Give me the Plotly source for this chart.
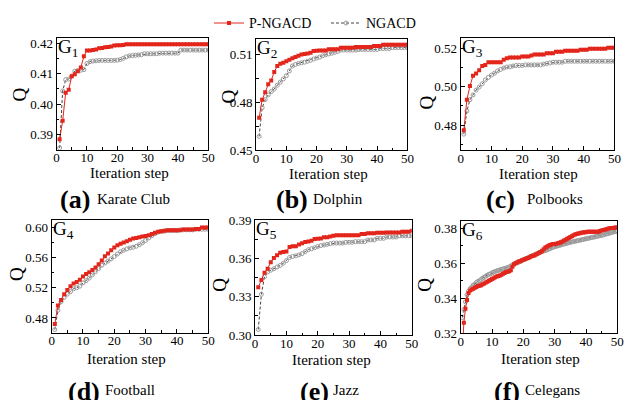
import plotly.graph_objects as go

# ---------------- data ----------------
steps = list(range(1, 51))
steps_f = [k / 2 for k in range(1, 101)]

karate_p = [0.3885, 0.3945, 0.4037, 0.4047, 0.4091, 0.4098, 0.4108, 0.4120, 0.4157, 0.4176,
            0.4176, 0.4177, 0.4179, 0.4183, 0.4184, 0.4186, 0.4187, 0.4189, 0.4192, 0.4193,
            0.4193, 0.4194, 0.4196, 0.4196, 0.4196, 0.4196, 0.4196, 0.4196, 0.4196, 0.4196,
            0.4196, 0.4196, 0.4196, 0.4196, 0.4196, 0.4196, 0.4196, 0.4196, 0.4196, 0.4196,
            0.4196, 0.4196, 0.4196, 0.4196, 0.4196, 0.4196, 0.4196, 0.4196, 0.4196, 0.4196]
karate_n = [0.3856, 0.4043, 0.4080, 0.4082, 0.4092, 0.4108, 0.4110, 0.4111, 0.4113, 0.4133,
            0.4139, 0.4141, 0.4142, 0.4143, 0.4143, 0.4143, 0.4143, 0.4143, 0.4143, 0.4144,
            0.4146, 0.4150, 0.4155, 0.4158, 0.4159, 0.4160, 0.4161, 0.4162, 0.4165, 0.4165,
            0.4165, 0.4165, 0.4165, 0.4167, 0.4167, 0.4167, 0.4167, 0.4167, 0.4167, 0.4167,
            0.4177, 0.4177, 0.4177, 0.4177, 0.4177, 0.4177, 0.4177, 0.4177, 0.4177, 0.4177]

dolphin_p = [0.4702, 0.4816, 0.4863, 0.4913, 0.4937, 0.4991, 0.5028, 0.5042, 0.5048, 0.5058,
             0.5068, 0.5076, 0.5084, 0.5092, 0.5100, 0.5104, 0.5106, 0.5112, 0.5122, 0.5124,
             0.5126, 0.5126, 0.5126, 0.5134, 0.5134, 0.5134, 0.5134, 0.5142, 0.5142, 0.5142,
             0.5142, 0.5142, 0.5148, 0.5148, 0.5148, 0.5148, 0.5148, 0.5148, 0.5154, 0.5154,
             0.5154, 0.5162, 0.5162, 0.5162, 0.5162, 0.5162, 0.5162, 0.5162, 0.5162, 0.5162]
dolphin_n = [0.4585, 0.4766, 0.4816, 0.4846, 0.4867, 0.4883, 0.4907, 0.4927, 0.4947, 0.4967,
             0.4997, 0.5028, 0.5038, 0.5044, 0.5048, 0.5052, 0.5058, 0.5064, 0.5072, 0.5078,
             0.5084, 0.5092, 0.5098, 0.5104, 0.5108, 0.5114, 0.5120, 0.5128, 0.5128, 0.5128,
             0.5128, 0.5128, 0.5128, 0.5132, 0.5132, 0.5132, 0.5132, 0.5132, 0.5132, 0.5132,
             0.5138, 0.5138, 0.5138, 0.5138, 0.5144, 0.5144, 0.5144, 0.5144, 0.5144, 0.5144]

polbooks_p = [0.4773, 0.4932, 0.5003, 0.5057, 0.5068, 0.5085, 0.5107, 0.5112, 0.5127, 0.5127,
              0.5127, 0.5127, 0.5127, 0.5140, 0.5148, 0.5152, 0.5152, 0.5152, 0.5152, 0.5157,
              0.5157, 0.5157, 0.5162, 0.5167, 0.5167, 0.5167, 0.5167, 0.5173, 0.5173, 0.5173,
              0.5182, 0.5182, 0.5182, 0.5187, 0.5187, 0.5187, 0.5187, 0.5187, 0.5192, 0.5192,
              0.5192, 0.5197, 0.5197, 0.5197, 0.5197, 0.5197, 0.5197, 0.5202, 0.5202, 0.5202]
polbooks_n = [0.4753, 0.4873, 0.4932, 0.4957, 0.4982, 0.4998, 0.5015, 0.5035, 0.5048, 0.5060,
              0.5070, 0.5082, 0.5090, 0.5097, 0.5102, 0.5103, 0.5107, 0.5110, 0.5110, 0.5110,
              0.5113, 0.5113, 0.5113, 0.5113, 0.5113, 0.5113, 0.5117, 0.5120, 0.5123, 0.5127,
              0.5127, 0.5127, 0.5127, 0.5132, 0.5132, 0.5132, 0.5132, 0.5132, 0.5132, 0.5132,
              0.5132, 0.5132, 0.5132, 0.5132, 0.5132, 0.5132, 0.5132, 0.5132, 0.5132, 0.5132]

football_p = [0.4719, 0.4966, 0.5038, 0.5115, 0.5170, 0.5221, 0.5255, 0.5277, 0.5306, 0.5349,
              0.5383, 0.5404, 0.5434, 0.5468, 0.5511, 0.5562, 0.5617, 0.5655, 0.5698, 0.5732,
              0.5762, 0.5783, 0.5800, 0.5817, 0.5834, 0.5851, 0.5860, 0.5868, 0.5877, 0.5885,
              0.5894, 0.5911, 0.5928, 0.5940, 0.5949, 0.5953, 0.5962, 0.5962, 0.5962, 0.5962,
              0.5962, 0.5970, 0.5970, 0.5970, 0.5970, 0.5979, 0.5979, 0.5996, 0.5996, 0.5996]
football_n = [0.4647, 0.4902, 0.5017, 0.5072, 0.5115, 0.5149, 0.5187, 0.5200, 0.5221, 0.5264,
              0.5294, 0.5328, 0.5370, 0.5413, 0.5455, 0.5498, 0.5528, 0.5553, 0.5583, 0.5613,
              0.5647, 0.5677, 0.5698, 0.5715, 0.5728, 0.5736, 0.5749, 0.5770, 0.5796, 0.5826,
              0.5860, 0.5889, 0.5915, 0.5936, 0.5945, 0.5949, 0.5957, 0.5957, 0.5957, 0.5957,
              0.5966, 0.5966, 0.5966, 0.5966, 0.5966, 0.5974, 0.5974, 0.5974, 0.5974, 0.5974]

jazz_p = [0.3374, 0.3432, 0.3488, 0.3520, 0.3571, 0.3603, 0.3626, 0.3644, 0.3651, 0.3654,
          0.3691, 0.3696, 0.3696, 0.3709, 0.3719, 0.3729, 0.3734, 0.3739, 0.3752, 0.3754,
          0.3757, 0.3767, 0.3767, 0.3772, 0.3779, 0.3782, 0.3782, 0.3782, 0.3782, 0.3782,
          0.3782, 0.3782, 0.3782, 0.3792, 0.3792, 0.3797, 0.3797, 0.3797, 0.3802, 0.3802,
          0.3802, 0.3804, 0.3804, 0.3804, 0.3804, 0.3804, 0.3809, 0.3809, 0.3809, 0.3817]
jazz_n = [0.3043, 0.3319, 0.3457, 0.3495, 0.3508, 0.3520, 0.3533, 0.3545, 0.3563, 0.3583,
          0.3608, 0.3616, 0.3621, 0.3628, 0.3638, 0.3654, 0.3669, 0.3676, 0.3684, 0.3694,
          0.3701, 0.3706, 0.3711, 0.3716, 0.3721, 0.3721, 0.3721, 0.3721, 0.3727, 0.3727,
          0.3727, 0.3732, 0.3732, 0.3732, 0.3732, 0.3745, 0.3745, 0.3745, 0.3758, 0.3758,
          0.3758, 0.3768, 0.3768, 0.3768, 0.3768, 0.3778, 0.3778, 0.3778, 0.3778, 0.3778]

celegans_p = [0.3080, 0.3260, 0.3340, 0.3390, 0.3430, 0.3445, 0.3450, 0.3455, 0.3460, 0.3465,
              0.3470, 0.3472, 0.3475, 0.3480, 0.3485, 0.3490, 0.3495, 0.3500, 0.3505, 0.3510,
              0.3515, 0.3520, 0.3525, 0.3528, 0.3530, 0.3535, 0.3540, 0.3545, 0.3550, 0.3552,
              0.3555, 0.3560, 0.3580, 0.3595, 0.3600, 0.3605, 0.3610, 0.3612, 0.3618, 0.3620,
              0.3623, 0.3628, 0.3630, 0.3635, 0.3640, 0.3643, 0.3645, 0.3650, 0.3655, 0.3660,
              0.3665, 0.3672, 0.3680, 0.3690, 0.3695, 0.3700, 0.3705, 0.3707, 0.3710, 0.3710,
              0.3712, 0.3715, 0.3718, 0.3720, 0.3725, 0.3730, 0.3735, 0.3740, 0.3745, 0.3750,
              0.3755, 0.3760, 0.3765, 0.3768, 0.3770, 0.3772, 0.3775, 0.3776, 0.3778, 0.3778,
              0.3780, 0.3780, 0.3780, 0.3780, 0.3780, 0.3780, 0.3780, 0.3780, 0.3785, 0.3788,
              0.3790, 0.3792, 0.3795, 0.3797, 0.3800, 0.3801, 0.3802, 0.3803, 0.3804, 0.3805]
celegans_n = [0.3290, 0.3335, 0.3380, 0.3420, 0.3440, 0.3455, 0.3465, 0.3475, 0.3480, 0.3490,
              0.3497, 0.3500, 0.3508, 0.3515, 0.3520, 0.3527, 0.3532, 0.3537, 0.3540, 0.3545,
              0.3550, 0.3553, 0.3556, 0.3560, 0.3562, 0.3565, 0.3568, 0.3570, 0.3573, 0.3576,
              0.3580, 0.3585, 0.3590, 0.3595, 0.3600, 0.3603, 0.3607, 0.3610, 0.3615, 0.3620,
              0.3624, 0.3628, 0.3632, 0.3636, 0.3640, 0.3644, 0.3648, 0.3652, 0.3656, 0.3660,
              0.3663, 0.3667, 0.3670, 0.3673, 0.3676, 0.3680, 0.3684, 0.3688, 0.3692, 0.3695,
              0.3697, 0.3700, 0.3702, 0.3705, 0.3708, 0.3710, 0.3713, 0.3715, 0.3718, 0.3720,
              0.3722, 0.3724, 0.3726, 0.3728, 0.3730, 0.3732, 0.3734, 0.3736, 0.3738, 0.3740,
              0.3742, 0.3744, 0.3746, 0.3748, 0.3750, 0.3752, 0.3754, 0.3756, 0.3758, 0.3760,
              0.3762, 0.3765, 0.3768, 0.3770, 0.3772, 0.3775, 0.3778, 0.3780, 0.3782, 0.3785]

network_names = ["Karate Club", "Dolphin", "Polbooks", "Football", "Jazz", "Celegans"]
panel_tags = ["(a)", "(b)", "(c)", "(d)", "(e)", "(f)"]
graph_ids = ["1", "2", "3", "4", "5", "6"]
x_series = [steps, steps, steps, steps, steps, steps_f]
p_series = [karate_p, dolphin_p, polbooks_p, football_p, jazz_p, celegans_p]
n_series = [karate_n, dolphin_n, polbooks_n, football_n, jazz_n, celegans_n]
y_ranges = [[0.385, 0.4217], [0.4499, 0.5197], [0.467, 0.5252],
            [0.4603, 0.6097], [0.2999, 0.3902], [0.3199, 0.3842]]
y_tick0 = [0.39, 0.45, 0.48, 0.48, 0.30, 0.32]
y_dtick = [0.01, 0.03, 0.02, 0.04, 0.03, 0.02]
x_ticks = [0, 10, 20, 30, 40, 50]

# ---------------- layout geometry (pixels) ----------------
W, H = 630, 400
boxes = [(54.3, 208.3, 32, 148), (256.7, 410.3, 33.3, 148.3), (464.3, 620.3, 32.3, 148.3),
         (49.3, 208.3, 220.7, 337.7), (255.7, 414.7, 220.7, 340), (464.3, 623.3, 221.7, 338.3)]
q_pos = [(17, 91), (229, 93), (430, 99), (14, 277), (220, 288), (428, 288)]
xt_pos = [(128, 172), (330, 173), (543, 173), (125, 365), (333, 366), (545, 365)]
tag_right = [90, 311, 521, 100, 333, 527]
tag_y = [199, 199, 199, 398, 398, 398]
name_left = [93, 312, 530, 101, 333, 528]
name_y = [199, 199, 199, 397, 397, 397]

FONT = "Liberation Serif, Times New Roman, DejaVu Serif, serif"
RED = "#e3261c"

fig = go.Figure()
layout = {}
annotations = []

for i in range(6):
    xa = "x" if i == 0 else f"x{i+1}"
    ya = "y" if i == 0 else f"y{i+1}"
    l, r, t, b = boxes[i]
    xkey = "xaxis" if i == 0 else f"xaxis{i+1}"
    ykey = "yaxis" if i == 0 else f"yaxis{i+1}"
    layout[xkey] = dict(
        domain=[l / W, r / W], anchor=ya, range=[-0.02, 50.02],
        tickvals=x_ticks, ticks="inside", ticklen=4, tickcolor="black", tickwidth=1,
        minor=dict(ticks="inside", ticklen=2.5, dtick=5, tick0=0, tickcolor="black"),
        showline=True, linecolor="black", linewidth=1, mirror=True,
        showgrid=False, zeroline=False, ticklabelstandoff=-4,
        tickfont=dict(family=FONT, size=13, color="black"),
    )
    layout[ykey] = dict(
        domain=[1 - b / H, 1 - t / H], anchor=xa, range=y_ranges[i],
        tick0=y_tick0[i], dtick=y_dtick[i], tickformat=".2f",
        ticks="inside", ticklen=4, tickcolor="black", tickwidth=1,
        minor=dict(ticks="inside", ticklen=2.5, dtick=y_dtick[i] / 2, tick0=y_tick0[i],
                   tickcolor="black"),
        showline=True, linecolor="black", linewidth=1, mirror=True,
        showgrid=False, zeroline=False,
        tickfont=dict(family=FONT, size=13, color="black"),
    )

    fig.add_trace(go.Scatter(
        x=x_series[i], y=n_series[i], xaxis=xa, yaxis=ya, name="NGACD",
        mode="lines+markers", showlegend=(i == 0), legendrank=2,
        line=dict(color="#444444", width=1, dash="3px,2px"),
        marker=dict(symbol="circle-open", size=4, color="#9a9a9a", line=dict(width=1, color="#9a9a9a")),
    ))
    fig.add_trace(go.Scatter(
        x=x_series[i], y=p_series[i], xaxis=xa, yaxis=ya, name="P-NGACD",
        mode="lines+markers", showlegend=(i == 0), legendrank=1,
        line=dict(color=RED, width=1),
        marker=dict(symbol="square", size=4, color=RED),
    ))

    annotations.append(dict(
        x=(l - 1) / W, y=1 - (t - 4) / H, xref="paper", yref="paper",
        xanchor="left", yanchor="top", showarrow=False,
        text=f"G<sub>{graph_ids[i]}</sub>", font=dict(family=FONT, size=19, color="black"),
    ))
    annotations.append(dict(
        x=q_pos[i][0] / W, y=1 - q_pos[i][1] / H, xref="paper", yref="paper",
        xanchor="center", yanchor="middle", showarrow=False, textangle=-90,
        text="Q", font=dict(family=FONT, size=19, color="black"),
    ))
    annotations.append(dict(
        x=xt_pos[i][0] / W, y=1 - xt_pos[i][1] / H, xref="paper", yref="paper",
        xanchor="center", yanchor="middle", showarrow=False,
        text="Iteration step", font=dict(family=FONT, size=15, color="black"),
    ))
    annotations.append(dict(
        x=tag_right[i] / W, y=1 - tag_y[i] / H, xref="paper", yref="paper",
        xanchor="right", yanchor="middle", showarrow=False,
        text=f"<b>{panel_tags[i]}</b>", font=dict(family=FONT, size=26, color="black"),
    ))
    annotations.append(dict(
        x=name_left[i] / W, y=1 - name_y[i] / H, xref="paper", yref="paper",
        xanchor="left", yanchor="middle", showarrow=False,
        text=network_names[i], font=dict(family=FONT, size=15, color="black"),
    ))

fig.update_layout(
    width=W, height=H, margin=dict(l=0, r=0, t=0, b=0),
    paper_bgcolor="white", plot_bgcolor="white",
    annotations=annotations,
    showlegend=True,
    legend=dict(orientation="h", x=209 / W, y=1 - 17 / H, xanchor="left", yanchor="middle",
                font=dict(family=FONT, size=14, color="black"), bgcolor="rgba(0,0,0,0)",
                itemwidth=30, tracegroupgap=0, entrywidth=72),
    **layout,
)

fig.write_html(
    "out.html",
    config={"displayModeBar": False},
    post_script="document.body.style.margin='0';document.body.style.overflow='hidden';",
)
